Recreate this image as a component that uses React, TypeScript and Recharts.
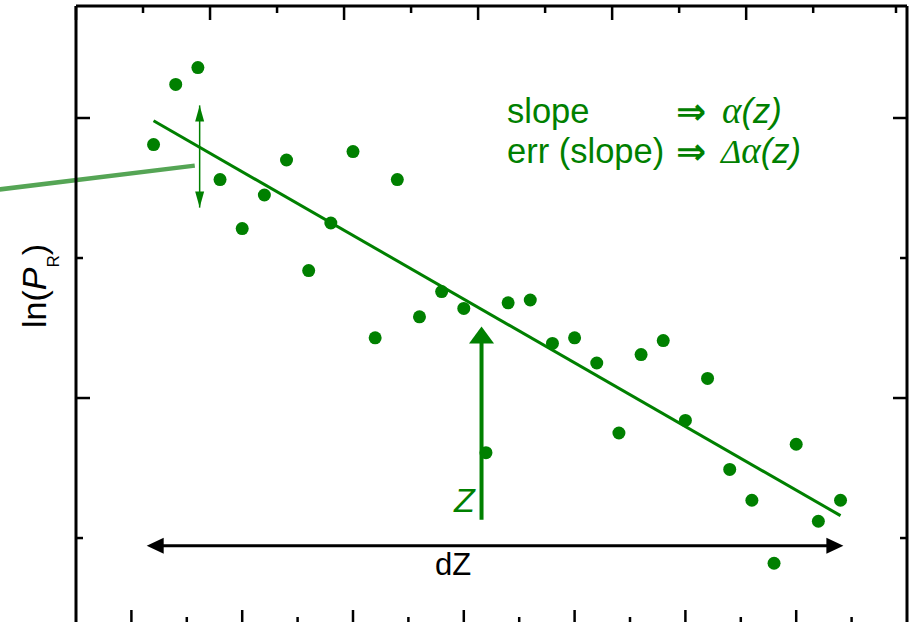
import React from 'react';
import {
  ComposedChart,
  Scatter,
  XAxis,
  YAxis,
  ReferenceLine,
  ReferenceDot,
} from 'recharts';

// measurement index along z and the measured ln(P_R) values
const pointIndex = [
  1, 2, 3, 4, 5, 6, 7, 8, 9, 10, 11, 12, 13, 14, 15, 16,
  17, 18, 19, 20, 21, 22, 23, 24, 25, 26, 27, 28, 29, 30, 31, 32,
];
const lnPR = [
  3.81, 4.24, 4.36, 3.56, 3.21, 3.45, 3.7, 2.91, 3.25, 3.76, 2.43, 3.56, 2.58, 2.76, 2.64, 1.61,
  2.68, 2.7, 2.39, 2.43, 2.25, 1.75, 2.31, 2.41, 1.84, 2.14, 1.49, 1.27, 0.82, 1.67, 1.12, 1.27,
];

const xTicks = [0, 2.5, 5, 7.5, 10, 12.5, 15, 17.5, 20, 22.5, 25, 27.5, 30, 32.5];
const yTicks = [1, 2, 3, 4];

// linear fit
const fitStart = { x: 1, y: 3.98 };
const fitEnd = { x: 32, y: 1.16 };

// annotations (data units)
const errArrow = { x: 3.08, top: 4.09, bottom: 3.36 };
const pointer = [{ x: -5.94, y: 3.49 }, { x: 2.86, y: 3.66 }];
const zArrow = { x: 15.8, tip: 2.51, bottom: 1.13 };
const dzArrow = { y: 0.945, left: 0.69, right: 32.13 };

const GREEN = '#008000';
const FONT = '"Liberation Sans", Arial, "DejaVu Sans", sans-serif';
const SERIF = '"Liberation Serif", "DejaVu Serif", serif';
const ARROW_FONT = '"DejaVu Sans", sans-serif';

const data = pointIndex.map((x, i) => ({ x, y: lnPR[i] }));

const isMajorX = (v: number) => v % 5 === 0;
const isMajorY = (v: number) => v % 2 === 0;

const BottomTick = (p: any) => {
  const len = isMajorX(p.payload.value) ? 14 : 7;
  return <line x1={p.x} y1={p.y} x2={p.x} y2={p.y - len} stroke="#000" strokeWidth={2.5} />;
};
const TopTick = (p: any) => {
  const len = isMajorX(p.payload.value) ? 14 : 7;
  return <line x1={p.x} y1={p.y} x2={p.x} y2={p.y + len} stroke="#000" strokeWidth={2.5} />;
};
const LeftTick = (p: any) => {
  const len = isMajorY(p.payload.value) ? 14 : 7;
  return <line x1={p.x} y1={p.y} x2={p.x + len} y2={p.y} stroke="#000" strokeWidth={2.5} />;
};
const RightTick = (p: any) => {
  const len = isMajorY(p.payload.value) ? 14 : 7;
  return <line x1={p.x} y1={p.y} x2={p.x - len} y2={p.y} stroke="#000" strokeWidth={2.5} />;
};

const head = (dir: 'up' | 'down' | 'left' | 'right', len: number, half: number, color: string) =>
  (p: any) => {
    const { cx, cy } = p;
    let pts = '';
    if (dir === 'up') pts = `${cx},${cy} ${cx - half},${cy + len} ${cx + half},${cy + len}`;
    if (dir === 'down') pts = `${cx},${cy} ${cx - half},${cy - len} ${cx + half},${cy - len}`;
    if (dir === 'left') pts = `${cx},${cy} ${cx + len},${cy - half} ${cx + len},${cy + half}`;
    if (dir === 'right') pts = `${cx},${cy} ${cx - len},${cy - half} ${cx - len},${cy + half}`;
    return <polygon points={pts} fill={color} />;
  };

const Dot = (p: any) => <circle cx={p.cx} cy={p.cy} r={6.5} fill={GREEN} />;

export default function App() {
  return (
    <div style={{ position: 'absolute', left: 0, top: 0, width: 910, height: 622, overflow: 'hidden', background: '#fff' }}>
      <ComposedChart width={910} height={640} data={data} margin={{ top: 0, right: 0, bottom: 0, left: 0 }}>
        <XAxis
          dataKey="x"
          type="number"
          domain={[-2.5, 35]}
          ticks={xTicks}
          allowDataOverflow
          height={16}
          tickSize={0}
          tickMargin={0}
          tick={BottomTick}
          axisLine={{ stroke: '#000', strokeWidth: 3 }}
          tickLine={false}
        />
        <XAxis
          xAxisId="top"
          orientation="top"
          type="number"
          domain={[-2.5, 35]}
          ticks={xTicks}
          allowDataOverflow
          height={6}
          tickSize={0}
          tickMargin={0}
          tick={TopTick}
          axisLine={{ stroke: '#000', strokeWidth: 3 }}
          tickLine={false}
        />
        <YAxis
          type="number"
          domain={[0.386, 4.8]}
          ticks={yTicks}
          allowDataOverflow
          width={76}
          tickSize={0}
          tickMargin={0}
          tick={LeftTick}
          axisLine={{ stroke: '#000', strokeWidth: 3 }}
          tickLine={false}
        />
        <YAxis
          yAxisId="right"
          orientation="right"
          type="number"
          domain={[0.386, 4.8]}
          ticks={yTicks}
          allowDataOverflow
          width={3}
          tickSize={0}
          tickMargin={0}
          tick={RightTick}
          axisLine={{ stroke: '#000', strokeWidth: 3 }}
          tickLine={false}
        />

        {/* pointer line coming in from the left */}
        <ReferenceLine
          segment={pointer}
          stroke="#55a555"
          strokeWidth={4.5}
          ifOverflow="visible"
        />

        {/* fit line */}
        <ReferenceLine
          segment={[fitStart, fitEnd]}
          stroke={GREEN}
          strokeWidth={3}
          ifOverflow="visible"
        />

        {/* error double arrow */}
        <ReferenceLine
          segment={[{ x: errArrow.x, y: errArrow.top }, { x: errArrow.x, y: errArrow.bottom }]}
          stroke={GREEN}
          strokeWidth={1.5}
          ifOverflow="visible"
        />
        <ReferenceDot x={errArrow.x} y={errArrow.top} shape={head('up', 16, 4.5, GREEN)} ifOverflow="visible" />
        <ReferenceDot x={errArrow.x} y={errArrow.bottom} shape={head('down', 16, 4.5, GREEN)} ifOverflow="visible" />

        {/* Z arrow */}
        <ReferenceLine
          segment={[{ x: zArrow.x, y: zArrow.tip - 0.08 }, { x: zArrow.x, y: zArrow.bottom }]}
          stroke={GREEN}
          strokeWidth={4}
          ifOverflow="visible"
        />
        <ReferenceDot x={zArrow.x} y={zArrow.tip} shape={head('up', 17, 12.5, GREEN)} ifOverflow="visible" />

        {/* dZ arrow */}
        <ReferenceLine
          segment={[{ x: dzArrow.left + 0.5, y: dzArrow.y }, { x: dzArrow.right - 0.5, y: dzArrow.y }]}
          stroke="#000"
          strokeWidth={3}
          ifOverflow="visible"
        />
        <ReferenceDot x={dzArrow.left} y={dzArrow.y} shape={head('left', 17, 8, '#000')} ifOverflow="visible" />
        <ReferenceDot x={dzArrow.right} y={dzArrow.y} shape={head('right', 17, 8, '#000')} ifOverflow="visible" />

        <Scatter dataKey="y" shape={Dot} isAnimationActive={false} />
      </ComposedChart>

      <svg
        width={910}
        height={622}
        style={{ position: 'absolute', left: 0, top: 0, pointerEvents: 'none' }}
        fontFamily={FONT}
      >
        <text transform="translate(46 286) rotate(-90)" textAnchor="middle" fontSize={34} fill="#000">
          <tspan>ln(</tspan>
          <tspan fontStyle="italic">P</tspan>
          <tspan fontSize={17} dy={13}>R</tspan>
          <tspan dy={-13}>)</tspan>
        </text>

        <text x={507} y={123} fontSize={34.5} fill={GREEN}>slope</text>
        <text x={676} y={124} fontSize={36} fontWeight="bold" fill={GREEN} fontFamily={ARROW_FONT}>⇒</text>
        <text x={722} y={123} fontSize={34.5} fill={GREEN}>
          <tspan fontFamily={SERIF} fontStyle="italic" fontSize={37}>α</tspan>
          <tspan fontStyle="italic">(z)</tspan>
        </text>

        <text x={507} y={163} fontSize={34.5} fill={GREEN}>err (slope)</text>
        <text x={676} y={164} fontSize={36} fontWeight="bold" fill={GREEN} fontFamily={ARROW_FONT}>⇒</text>
        <text x={721} y={163} fontSize={34.5} fill={GREEN}>
          <tspan fontFamily={SERIF} fontStyle="italic">Δ</tspan>
          <tspan fontFamily={SERIF} fontStyle="italic" fontSize={37}>α</tspan>
          <tspan fontStyle="italic">(z)</tspan>
        </text>

        <text x={454} y={512} fontSize={34} fill={GREEN} fontStyle="italic">Z</text>

        <text x={453} y={575} fontSize={31} fill="#000" textAnchor="middle">dZ</text>
      </svg>
    </div>
  );
}
